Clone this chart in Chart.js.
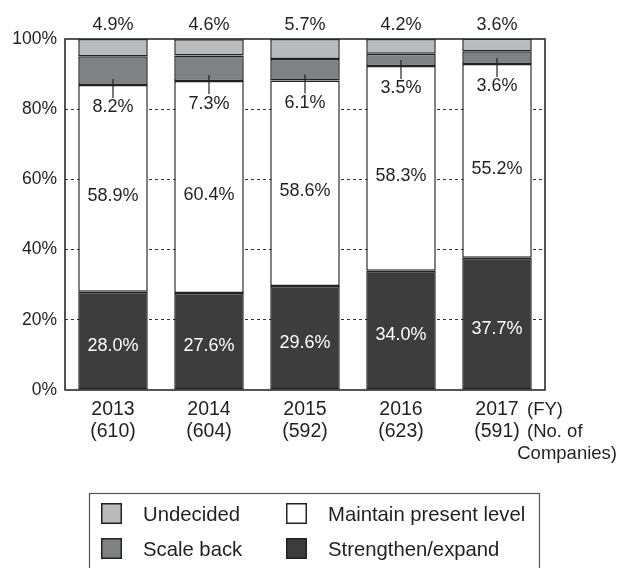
<!DOCTYPE html>
<html>
<head>
<meta charset="utf-8">
<script src="https://cdn.jsdelivr.net/npm/chart.js@4"></script>
<style>
  html, body { margin: 0; padding: 0; background: #fff; }
  #wrap { width: 619px; height: 568px; }
</style>
</head>
<body>
<div id="wrap"><canvas id="c" width="619" height="568"></canvas></div>
<script>
// Fiscal years and number of responding companies
const years = ['2013', '2014', '2015', '2016', '2017'];
const companies = ['(610)', '(604)', '(592)', '(623)', '(591)'];

// Share of companies (%) by business plan, stacked bottom to top
const strengthen = [28.0, 27.6, 29.6, 34.0, 37.7];
const maintain   = [58.9, 60.4, 58.6, 58.3, 55.2];
const scaleBack  = [8.2, 7.3, 6.1, 3.5, 3.6];
const undecided  = [4.9, 4.6, 5.7, 4.2, 3.6];

const yTicks = [0, 20, 40, 60, 80, 100];
const seriesNames = ['Strengthen/expand', 'Maintain present level', 'Scale back', 'Undecided'];
const legendOrder = ['Undecided', 'Maintain present level', 'Scale back', 'Strengthen/expand'];

const FONT = "'Liberation Sans', Arial, Helvetica, sans-serif";
const INK = '#231f20';
const colors = {
  'Strengthen/expand': '#3d3d3d',
  'Maintain present level': '#ffffff',
  'Scale back': '#808183',
  'Undecided': '#babbbd'
};

const labels = years.map((y, i) => [y, companies[i]]);
const seriesData = [strengthen, maintain, scaleBack, undecided];

const datasets = seriesNames.map((name, i) => ({
  label: name,
  data: seriesData[i],
  backgroundColor: colors[name],
  borderColor: '#222',
  borderWidth: 1.5,
  borderSkipped: false,
  categoryPercentage: 1.0,
  barPercentage: 0.724
}));

const fmt = v => v.toFixed(1) + '%';

// Value labels, leader lines and the frame around the plot
const valueLabels = {
  id: 'valueLabels',
  afterDatasetsDraw(chart) {
    const ctx = chart.ctx;
    const area = chart.chartArea;
    ctx.save();
    ctx.strokeStyle = '#2a2a2a';
    ctx.lineWidth = 1.6;
    ctx.strokeRect(area.left, area.top, area.right - area.left, area.bottom - area.top);

    ctx.font = '18px ' + FONT;
    ctx.textAlign = 'center';
    ctx.textBaseline = 'middle';
    chart.data.datasets.forEach((ds, i) => {
      const meta = chart.getDatasetMeta(i);
      meta.data.forEach((bar, j) => {
        const v = ds.data[j];
        const mid = (bar.y + bar.base) / 2;
        if (ds.label === 'Strengthen/expand') {
          ctx.fillStyle = '#ffffff';
          ctx.fillText(fmt(v), bar.x, mid + 5);
        } else if (ds.label === 'Maintain present level') {
          ctx.fillStyle = INK;
          ctx.fillText(fmt(v), bar.x, mid + 8);
        } else if (ds.label === 'Scale back') {
          ctx.strokeStyle = '#222';
          ctx.lineWidth = 1.2;
          ctx.beginPath();
          ctx.moveTo(bar.x, bar.base - 6);
          ctx.lineTo(bar.x, bar.base + 13);
          ctx.stroke();
          ctx.fillStyle = INK;
          ctx.fillText(fmt(v), bar.x, bar.base + 22.5);
        } else {
          ctx.fillStyle = INK;
          ctx.fillText(fmt(v), bar.x, area.top - 14);
        }
      });
    });
    ctx.restore();
  },
  afterDraw(chart) {
    const ctx = chart.ctx;
    const area = chart.chartArea;
    const xs = chart.scales.x;
    const lastX = xs.getPixelForTick(years.length - 1);
    ctx.save();
    ctx.fillStyle = INK;
    ctx.font = '18.5px ' + FONT;
    ctx.textBaseline = 'middle';
    ctx.textAlign = 'left';
    ctx.fillText('(FY)', lastX + 30, area.bottom + 20);
    ctx.fillText('(No. of', lastX + 30, area.bottom + 42);
    ctx.textAlign = 'right';
    ctx.fillText('Companies)', 617, area.bottom + 64);

    // Legend box
    ctx.strokeStyle = '#555';
    ctx.lineWidth = 1.2;
    ctx.strokeRect(89.5, 493.5, 450, 100);
    const cols = [101, 286];
    const rows = [503, 538];
    ctx.font = '20.3px ' + FONT;
    ctx.textAlign = 'left';
    legendOrder.forEach((name, k) => {
      const x = cols[k % 2];
      const y = rows[Math.floor(k / 2)];
      ctx.fillStyle = colors[name];
      ctx.fillRect(x, y, 21, 21);
      ctx.strokeStyle = '#222';
      ctx.lineWidth = 1.5;
      ctx.strokeRect(x + 0.75, y + 0.75, 19.5, 19.5);
      ctx.fillStyle = INK;
      ctx.fillText(name, x + 42, y + 12);
    });
    ctx.restore();
  }
};

new Chart(document.getElementById('c'), {
  type: 'bar',
  data: { labels: labels, datasets: datasets },
  options: {
    responsive: false,
    animation: false,
    devicePixelRatio: 1,
    layout: { padding: { top: 39, right: 74, left: 0, bottom: 0 } },
    plugins: {
      legend: { display: false },
      tooltip: { enabled: false }
    },
    scales: {
      x: {
        stacked: true,
        grid: { display: false, drawTicks: false },
        border: { display: false },
        ticks: {
          color: INK,
          font: { family: FONT, size: 19.5, lineHeight: 1.13 },
          padding: 9,
          maxRotation: 0,
          autoSkip: false
        },
        afterFit(scale) { scale.height = 178; }
      },
      y: {
        stacked: true,
        min: 0,
        max: 100,
        afterBuildTicks(scale) { scale.ticks = yTicks.map(v => ({ value: v })); },
        grid: {
          drawTicks: false,
          color: c => (c.tick && (c.tick.value === 0 || c.tick.value === 100)) ? 'rgba(0,0,0,0)' : '#333',
          lineWidth: 1
        },
        border: { display: false, dash: [3, 3] },
        ticks: {
          color: INK,
          font: { family: FONT, size: 17.5 },
          padding: 8,
          callback: v => v + '%'
        },
        afterFit(scale) { scale.width = 65; }
      }
    }
  },
  plugins: [valueLabels]
});
</script>
</body>
</html>
